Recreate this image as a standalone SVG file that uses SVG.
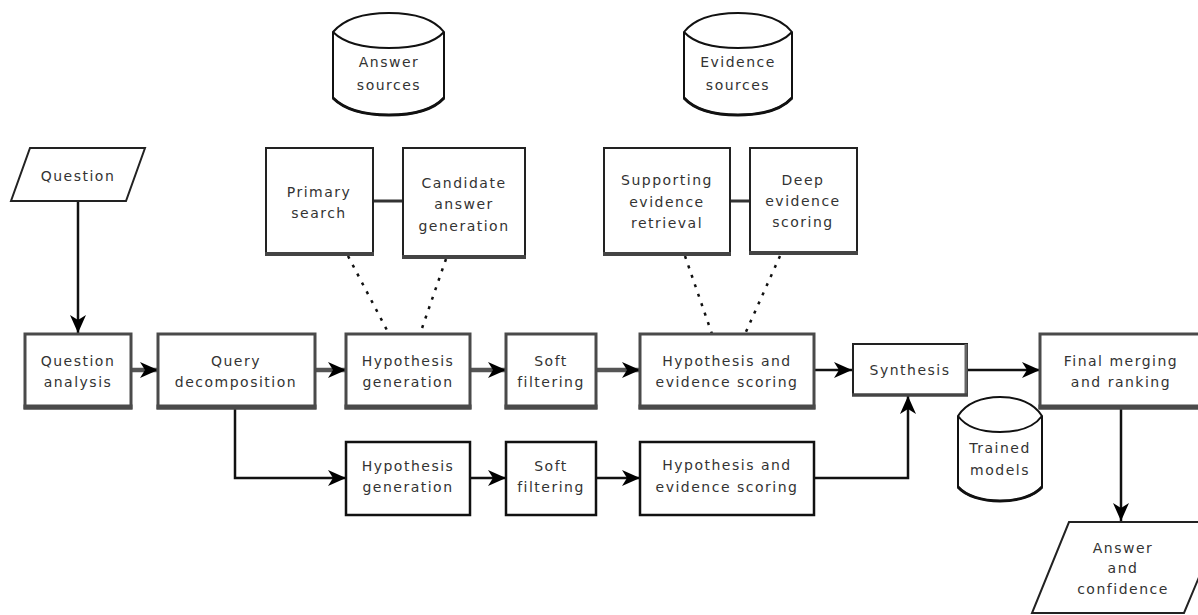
<svg xmlns="http://www.w3.org/2000/svg" width="1198" height="615" viewBox="0 0 1198 615">
<defs>
<style>
text{font-family:"DejaVu Sans","Liberation Sans",sans-serif;font-size:14px;fill:#333;text-anchor:middle;letter-spacing:1.5px}
.tb{fill:#fff;stroke:#4a4a4a;stroke-width:3}
.tbb{stroke:#4a4a4a;stroke-width:5}
.sb{fill:#fff;stroke:#222;stroke-width:2}
.bb{fill:#fff;stroke:#111;stroke-width:2.5}
.cyl{fill:#fff;stroke:#111;stroke-width:2}
.thick{fill:none;stroke:#555;stroke-width:4.5}
.thin{fill:none;stroke:#111;stroke-width:2.5}
.dot{fill:none;stroke:#111;stroke-width:2.5;stroke-dasharray:3,7}
</style>
<marker id="ah" viewBox="0 0 18 18" refX="18" refY="9" markerWidth="18" markerHeight="18" markerUnits="userSpaceOnUse" orient="auto">
<path d="M0,1 L18,9 L0,17 L5,9 z" fill="#000"/>
</marker>
</defs>
<rect width="1198" height="615" fill="#fff"/>

<g id="connectors">
<line x1="78" y1="201" x2="78" y2="333" class="thin" stroke-width="2" marker-end="url(#ah)"/>
<line x1="131" y1="370" x2="158" y2="370" class="thick" marker-end="url(#ah)"/>
<line x1="315" y1="370" x2="346" y2="370" class="thick" marker-end="url(#ah)"/>
<line x1="470" y1="370" x2="506" y2="370" class="thick" marker-end="url(#ah)"/>
<line x1="596" y1="370" x2="640" y2="370" class="thick" marker-end="url(#ah)"/>
<line x1="814" y1="370" x2="852" y2="370" class="thin" marker-end="url(#ah)"/>
<line x1="968" y1="370" x2="1040" y2="370" class="thin" marker-end="url(#ah)"/>
<polyline points="235,409 235,478 346,478" class="thin" marker-end="url(#ah)"/>
<line x1="470" y1="478" x2="506" y2="478" class="thin" marker-end="url(#ah)"/>
<line x1="596" y1="478" x2="640" y2="478" class="thin" marker-end="url(#ah)"/>
<polyline points="814,478 908,478 908,396" class="thin" marker-end="url(#ah)"/>
<line x1="1121" y1="409" x2="1121" y2="521" class="thin" stroke-width="3" marker-end="url(#ah)"/>
<line x1="373" y1="201" x2="403" y2="201" stroke="#333" stroke-width="3"/>
<line x1="730" y1="201" x2="750" y2="201" stroke="#333" stroke-width="3"/>
<line x1="348" y1="256" x2="389" y2="334" class="dot"/>
<line x1="446" y1="259" x2="420" y2="334" class="dot"/>
<line x1="685" y1="256" x2="712" y2="334" class="dot"/>
<line x1="780" y1="256" x2="745" y2="334" class="dot"/>
</g>

<g id="question">
<polygon points="30,148 145,148 126,201 11,201" fill="#fff" stroke="#222" stroke-width="2"/>
<text x="78" y="181">Question</text>
</g>

<g id="answer-sources">
<path d="M333,32 C345,18 365,13 389,13 C413,13 433,18 444,32 L444,98 C433,110 413,115 389,115 C365,115 345,110 333,98 Z" class="cyl"/>
<path d="M333,32 C345,44 365,48 389,48 C413,48 433,44 444,32" class="cyl" fill="none"/>
<path d="M333,98 C345,110 365,115 389,115 C413,115 433,110 444,98" fill="none" stroke="#111" stroke-width="3"/>
<text x="389" y="67">Answer</text>
<text x="389" y="90">sources</text>
</g>

<g id="evidence-sources">
<path d="M684,32 C695,18 715,13 738,13 C761,13 781,18 792,32 L792,98 C781,110 761,115 738,115 C715,115 695,110 684,98 Z" class="cyl"/>
<path d="M684,32 C695,44 715,48 738,48 C761,48 781,44 792,32" class="cyl" fill="none"/>
<path d="M684,98 C695,110 715,115 738,115 C761,115 781,110 792,98" fill="none" stroke="#111" stroke-width="3"/>
<text x="738" y="67">Evidence</text>
<text x="738" y="90">sources</text>
</g>

<g id="trained-models">
<path d="M958,416 C966,403 982,397 1000,397 C1018,397 1034,403 1042,416 L1042,487 C1034,496 1018,501 1000,501 C982,501 966,496 958,487 Z" class="cyl"/>
<path d="M958,416 C966,427 982,432 1000,432 C1018,432 1034,427 1042,416" class="cyl" fill="none"/>
<path d="M958,487 C966,496 982,501 1000,501 C1018,501 1034,496 1042,487" fill="none" stroke="#111" stroke-width="3"/>
<text x="1000" y="453">Trained</text>
<text x="1000" y="475">models</text>
</g>

<g id="primary-search">
<rect x="266" y="148" width="107" height="106" class="sb"/>
<line x1="265" y1="254" x2="374" y2="254" stroke="#444" stroke-width="4"/>
<text x="319" y="197">Primary</text>
<text x="319" y="218">search</text>
</g>

<g id="candidate-answer-generation">
<rect x="403" y="148" width="122" height="109" class="sb"/>
<line x1="402" y1="257" x2="526" y2="257" stroke="#444" stroke-width="4"/>
<text x="464" y="188">Candidate</text>
<text x="464" y="209">answer</text>
<text x="464" y="231">generation</text>
</g>

<g id="supporting-evidence-retrieval">
<rect x="604" y="148" width="126" height="106" class="sb"/>
<line x1="603" y1="254" x2="731" y2="254" stroke="#444" stroke-width="4"/>
<text x="667" y="185">Supporting</text>
<text x="667" y="207">evidence</text>
<text x="667" y="228">retrieval</text>
</g>

<g id="deep-evidence-scoring">
<rect x="750" y="148" width="107" height="105" class="sb"/>
<line x1="749" y1="253" x2="858" y2="253" stroke="#444" stroke-width="4"/>
<text x="803" y="185">Deep</text>
<text x="803" y="206">evidence</text>
<text x="803" y="227">scoring</text>
</g>

<g id="question-analysis">
<rect x="25" y="334" width="106" height="74" class="tb"/>
<line x1="23.5" y1="407" x2="132.5" y2="407" class="tbb"/>
<text x="78" y="366">Question</text>
<text x="78" y="387">analysis</text>
</g>

<g id="query-decomposition">
<rect x="158" y="334" width="157" height="74" class="tb"/>
<line x1="156.5" y1="407" x2="316.5" y2="407" class="tbb"/>
<text x="236" y="366">Query</text>
<text x="236" y="387">decomposition</text>
</g>

<g id="hypothesis-generation-1">
<rect x="346" y="334" width="124" height="74" class="tb"/>
<line x1="344.5" y1="407" x2="471.5" y2="407" class="tbb"/>
<text x="408" y="366">Hypothesis</text>
<text x="408" y="387">generation</text>
</g>

<g id="soft-filtering-1">
<rect x="506" y="334" width="90" height="74" class="tb"/>
<line x1="504.5" y1="407" x2="597.5" y2="407" class="tbb"/>
<text x="551" y="366">Soft</text>
<text x="551" y="387">filtering</text>
</g>

<g id="hypothesis-evidence-scoring-1">
<rect x="640" y="334" width="174" height="74" class="tb"/>
<line x1="638.5" y1="407" x2="815.5" y2="407" class="tbb"/>
<text x="727" y="366">Hypothesis and</text>
<text x="727" y="387">evidence scoring</text>
</g>

<g id="synthesis">
<rect x="853" y="344" width="114" height="51" class="sb"/>
<line x1="966" y1="344" x2="966" y2="395" stroke="#666" stroke-width="3"/>
<line x1="852" y1="395" x2="968" y2="395" stroke="#444" stroke-width="3.5"/>
<text x="910" y="375">Synthesis</text>
</g>

<g id="final-merging">
<rect x="1040" y="334" width="170" height="74" class="tb"/>
<line x1="1038.5" y1="407" x2="1210" y2="407" class="tbb"/>
<text x="1121" y="366">Final merging</text>
<text x="1121" y="387">and ranking</text>
</g>

<g id="hypothesis-generation-2">
<rect x="346" y="442" width="124" height="73" class="bb"/>
<text x="408" y="471">Hypothesis</text>
<text x="408" y="492">generation</text>
</g>

<g id="soft-filtering-2">
<rect x="506" y="442" width="90" height="73" class="bb"/>
<text x="551" y="471">Soft</text>
<text x="551" y="492">filtering</text>
</g>

<g id="hypothesis-evidence-scoring-2">
<rect x="640" y="442" width="174" height="73" class="bb"/>
<text x="727" y="470">Hypothesis and</text>
<text x="727" y="492">evidence scoring</text>
</g>

<g id="answer-confidence">
<polygon points="1069,522 1222,522 1184,613 1032,613" fill="#fff" stroke="#222" stroke-width="2"/>
<text x="1123" y="553">Answer</text>
<text x="1123" y="573">and</text>
<text x="1123" y="594">confidence</text>
</g>
</svg>
